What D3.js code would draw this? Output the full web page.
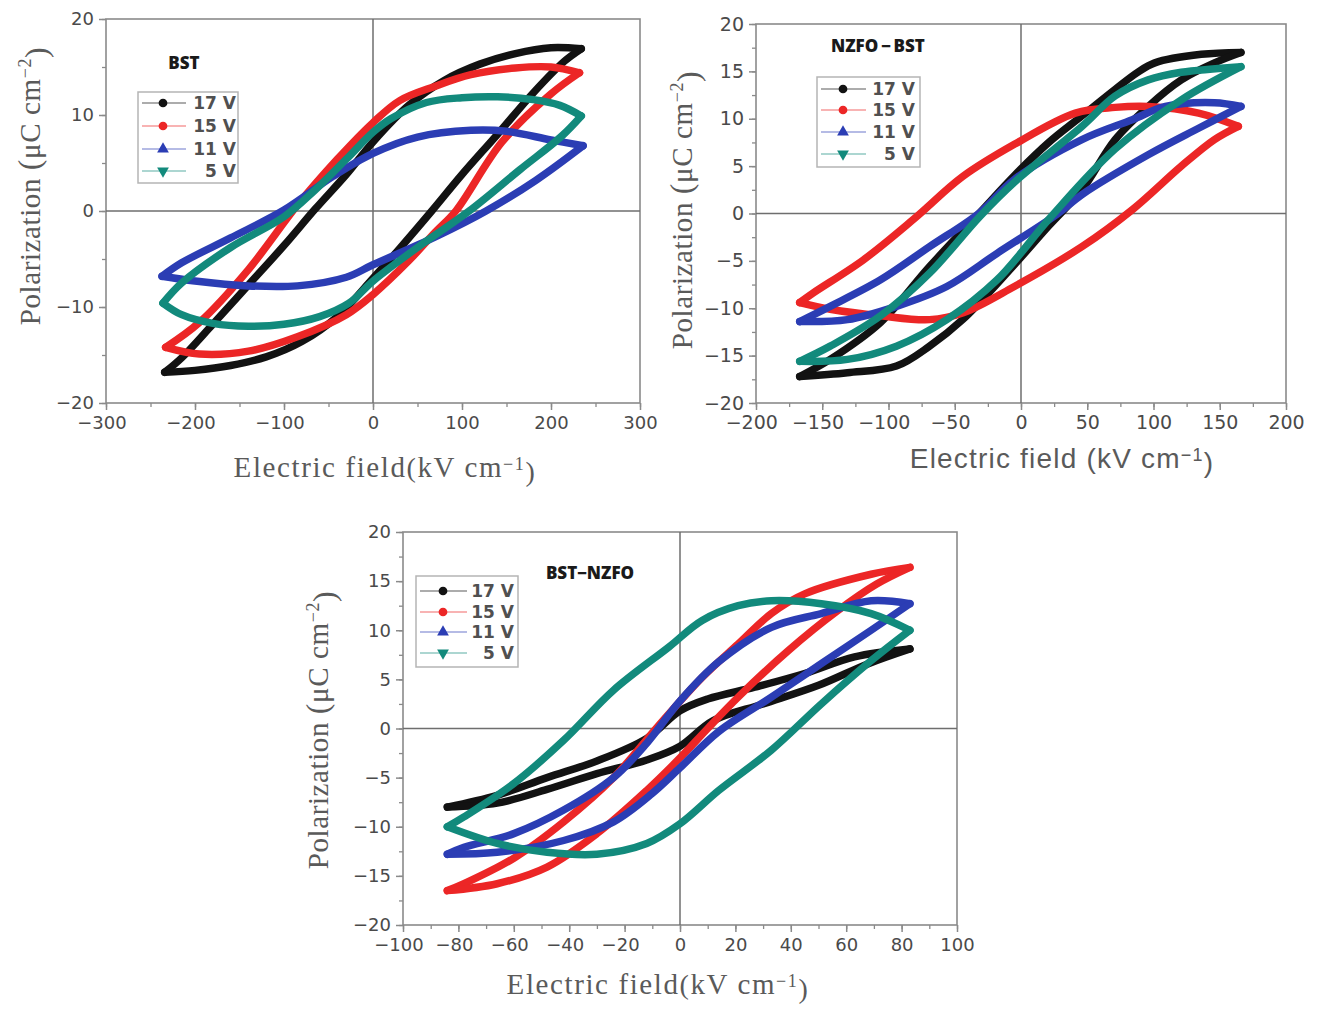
<!DOCTYPE html>
<html>
<head>
<meta charset="utf-8">
<script src="https://cdn.jsdelivr.net/npm/d3@7"></script>
<style>
  html, body { margin: 0; padding: 0; background: #ffffff; }
  svg { display: block; }
</style>
</head>
<body>
<svg id="chart" width="1319" height="1009"></svg>
<script>
// ---------------- DATA ----------------
const seriesNames = ["17 V", "15 V", "11 V", "5 V"];
const seriesColors = ["#121212", "#ec2626", "#2b3db4", "#128a7c"];

// Tick labels
const bstXTicks = [-300, -200, -100, 0, 100, 200, 300];
const nzfoBstXTicks = [-200, -150, -100, -50, 0, 50, 100, 150, 200];
const bstNzfoXTicks = [-100, -80, -60, -40, -20, 0, 20, 40, 60, 80, 100];
const bstYTicks = [-20, -10, 0, 10, 20];
const nzfoBstYTicks = [-20, -15, -10, -5, 0, 5, 10, 15, 20];
const bstNzfoYTicks = [-20, -15, -10, -5, 0, 5, 10, 15, 20];

// Panel "BST": [E (kV/cm), P (uC/cm2)], upper branch (E falling) and lower branch (E rising)
const bst17Upper = [[234,16.9],[200,17.0],[160,16.4],[120,15.3],[80,13.6],[40,11.0],[0,7.2],[-30,3.8],[-65,0.2],[-100,-3.6],[-140,-7.7],[-180,-11.8],[-215,-15.3],[-234,-16.8]];
const bst17Lower = [[-234,-16.8],[-200,-16.6],[-160,-16.1],[-120,-15.2],[-80,-13.6],[-40,-11.0],[0,-7.0],[30,-3.9],[66,0],[100,3.8],[140,8.0],[180,12.3],[215,15.6],[234,16.9]];
const bst15Upper = [[232,14.4],[200,15.0],[160,14.9],[110,14.2],[70,13.0],[30,11.5],[0,9.2],[-40,5.4],[-85,0.6],[-140,-6.1],[-195,-11.6],[-233,-14.2]];
const bst15Lower = [[-233,-14.2],[-195,-14.9],[-140,-14.6],[-85,-13.1],[-30,-10.8],[0,-8.7],[40,-5.2],[70,-2.2],[93,0],[145,7.2],[200,12.2],[232,14.4]];
const bst11Upper = [[236,6.8],[200,7.4],[150,8.3],[110,8.4],[50,7.7],[0,6.0],[-45,3.6],[-100,0.1],[-160,-2.8],[-215,-5.4],[-237,-6.8]];
const bst11Lower = [[-237,-6.8],[-200,-7.3],[-140,-7.8],[-85,-7.8],[-30,-6.9],[0,-5.6],[70,-2.7],[127,0],[183,3.2],[236,6.8]];
const bst5Upper = [[234,9.9],[210,11.0],[180,11.6],[140,11.9],[100,11.8],[60,11.3],[20,9.6],[0,8.2],[-30,5.4],[-65,2.2],[-100,-0.6],[-160,-3.8],[-215,-7.5],[-236,-9.6]];
const bst5Lower = [[-236,-9.6],[-215,-10.8],[-180,-11.7],[-140,-12.0],[-100,-11.8],[-60,-11.0],[-27,-9.6],[0,-7.3],[50,-3.8],[108,0],[165,4.3],[212,7.8],[234,9.9]];

// Panel "NZFO-BST"
const nb17Upper = [[166,17.0],[136,16.8],[101,15.9],[88,14.9],[71,13.1],[46,10.3],[21,7.5],[-5,4.0],[-31,0.1],[-69,-5.6],[-106,-11.5],[-144,-15.4],[-167,-17.2]];
const nb17Lower = [[-167,-17.2],[-131,-16.8],[-94,-16.1],[-69,-14.0],[-44,-11.2],[-5,-5.4],[21,-1.3],[46,2.5],[71,7.8],[96,11.3],[121,14.1],[146,15.9],[166,17.0]];
const nb15Upper = [[164,9.2],[134,10.6],[96,11.3],[71,11.2],[41,10.6],[-5,7.3],[-44,3.9],[-81,-0.6],[-119,-4.9],[-157,-8.4],[-167,-9.4]];
const nb15Lower = [[-167,-9.4],[-144,-10.1],[-106,-10.8],[-69,-11.2],[-44,-10.5],[-5,-7.7],[46,-3.5],[84,0.4],[121,5.0],[146,7.8],[164,9.2]];
const nb11Upper = [[166,11.3],[146,11.7],[109,11.3],[84,9.9],[46,7.8],[-5,3.6],[-31,0.1],[-69,-3.5],[-106,-7.0],[-144,-9.8],[-167,-11.4]];
const nb11Lower = [[-167,-11.4],[-131,-11.2],[-94,-9.8],[-56,-7.7],[-18,-4.2],[28,0],[46,2.0],[96,6.2],[134,9.0],[166,11.3]];
const nb5Upper = [[166,15.5],[121,14.9],[96,14.1],[71,12.4],[46,9.2],[-5,3.3],[-31,-0.3],[-69,-6.3],[-106,-10.8],[-144,-14.0],[-167,-15.6]];
const nb5Lower = [[-167,-15.6],[-131,-15.4],[-94,-14.0],[-56,-11.2],[-18,-7.0],[21,-0.6],[71,6.8],[121,12.0],[166,15.5]];

// Panel "BST-NZFO"
const bn17Upper = [[83,8.1],[63,7.3],[45,5.6],[27,4.2],[10,3.0],[0,1.8],[-12,-1.0],[-30,-3.3],[-48,-5.0],[-66,-6.8],[-84,-8.0]];
const bn17Lower = [[-84,-8.0],[-66,-7.6],[-48,-6.2],[-30,-4.6],[-12,-3.2],[0,-1.8],[12,0.8],[30,2.5],[50,4.4],[68,6.6],[83,8.1]];
const bn15Upper = [[83,16.4],[69,15.7],[45,13.7],[33,11.7],[21,8.6],[8,5.2],[-8,0.2],[-24,-5.0],[-42,-9.5],[-60,-13.2],[-78,-15.8],[-84,-16.5]];
const bn15Lower = [[-84,-16.5],[-66,-15.8],[-48,-14.1],[-30,-10.7],[-12,-6.3],[0,-3.0],[10,0],[21,3.2],[39,7.9],[57,12.0],[71,14.7],[83,16.4]];
const bn11Upper = [[83,12.7],[69,13.0],[51,11.7],[33,10.3],[14,6.8],[0,2.8],[-12,-1.5],[-24,-5.0],[-42,-8.3],[-60,-10.7],[-78,-12.1],[-84,-12.8]];
const bn11Lower = [[-84,-12.8],[-66,-12.6],[-42,-11.4],[-24,-9.5],[-10,-6.6],[0,-4.0],[14,-0.3],[33,3.2],[51,6.6],[69,10.0],[83,12.7]];
const bn5Upper = [[83,10.0],[69,11.7],[51,12.7],[33,13.0],[21,12.5],[8,11.0],[-4,8.3],[-24,3.9],[-42,-1.2],[-60,-5.6],[-78,-9.0],[-84,-10.0]];
const bn5Lower = [[-84,-10.0],[-66,-11.7],[-48,-12.6],[-30,-12.8],[-12,-11.7],[0,-9.7],[14,-6.3],[33,-2.2],[51,2.5],[69,6.9],[83,10.0]];

// ---------------- DRAWING ----------------
const svg = d3.select("#chart");
const axisColor = "#8a8a8a";
const textColor = "#4a4a4a";

const panels = [
  {
    name: "BST", xDomain: [-300, 300], yDomain: [-20, 20],
    xRange: [106, 640], yRange: [403, 19],
    xTicks: bstXTicks, yTicks: bstYTicks, xMinorStep: 50, yMinorStep: 5,
    loops: [[bst17Upper, bst17Lower], [bst15Upper, bst15Lower], [bst11Upper, bst11Lower], [bst5Upper, bst5Lower]],
    label: "BST", labelPos: [184, 64],
    legend: {x: 138, y: 92, w: 100, h: 91, rowY: [103, 126, 149, 171], markX: 163, lineX: [142, 186], textX: 236},
    xTitle: {x: 385, y: 477, serif: true}, yTitle: {x: 40, y: 186},
    tickFont: 18
  },
  {
    name: "NZFO-BST", xDomain: [-200, 200], yDomain: [-20, 20],
    xRange: [756, 1286], yRange: [403, 24],
    xTicks: nzfoBstXTicks, yTicks: nzfoBstYTicks, xMinorStep: 25, yMinorStep: 2.5,
    loops: [[nb17Upper, nb17Lower], [nb15Upper, nb15Lower], [nb11Upper, nb11Lower], [nb5Upper, nb5Lower]],
    label: "NZFO\u2009\u2212\u2009BST", labelPos: [878, 47],
    legend: {x: 817, y: 77, w: 103, h: 90, rowY: [89, 110, 132, 154], markX: 843, lineX: [821, 866], textX: 915},
    xTitle: {x: 1062, y: 468, serif: false}, yTitle: {x: 692, y: 210},
    tickFont: 19
  },
  {
    name: "BST-NZFO", xDomain: [-100, 100], yDomain: [-20, 20],
    xRange: [403, 957], yRange: [925, 532],
    xTicks: bstNzfoXTicks, yTicks: bstNzfoYTicks, xMinorStep: 10, yMinorStep: 2.5,
    loops: [[bn17Upper, bn17Lower], [bn15Upper, bn15Lower], [bn11Upper, bn11Lower], [bn5Upper, bn5Lower]],
    label: "BST\u2212NZFO", labelPos: [590, 574],
    legend: {x: 416, y: 576, w: 102, h: 91, rowY: [591, 612, 632, 653], markX: 443, lineX: [420, 467], textX: 514},
    xTitle: {x: 658, y: 994, serif: true}, yTitle: {x: 328, y: 730},
    tickFont: 18
  }
];

function drawPanel(p) {
  const g = svg.append("g").attr("class", "panel");
  const x = d3.scaleLinear().domain(p.xDomain).range(p.xRange);
  const y = d3.scaleLinear().domain(p.yDomain).range(p.yRange);

  // minor ticks
  const xMinor = d3.range(p.xDomain[0], p.xDomain[1] + 1e-9, p.xMinorStep);
  const yMinor = d3.range(p.yDomain[0], p.yDomain[1] + 1e-9, p.yMinorStep);
  g.append("g").attr("transform", `translate(0,${p.yRange[0]})`)
    .call(d3.axisBottom(x).tickValues(xMinor).tickSize(4).tickFormat(""))
    .call(a => a.select(".domain").remove())
    .call(a => a.selectAll("line").attr("stroke", axisColor).attr("stroke-width", 1.3));
  g.append("g").attr("transform", `translate(${p.xRange[0]},0)`)
    .call(d3.axisLeft(y).tickValues(yMinor).tickSize(4).tickFormat(""))
    .call(a => a.select(".domain").remove())
    .call(a => a.selectAll("line").attr("stroke", axisColor).attr("stroke-width", 1.3));

  // major axes
  const xAxis = g.append("g").attr("transform", `translate(0,${p.yRange[0]})`)
    .call(d3.axisBottom(x).tickValues(p.xTicks).tickSize(7).tickPadding(6));
  const yAxis = g.append("g").attr("transform", `translate(${p.xRange[0]},0)`)
    .call(d3.axisLeft(y).tickValues(p.yTicks).tickSize(7).tickPadding(5));
  [xAxis, yAxis].forEach(a => {
    a.select(".domain").remove();
    a.selectAll("line").attr("stroke", axisColor).attr("stroke-width", 1.5);
    a.selectAll("text").attr("fill", textColor)
      .style("font-family", "'DejaVu Sans', sans-serif")
      .style("font-size", p.tickFont + "px");
  });
  xAxis.selectAll("text").attr("dx", d => d < 0 ? "-0.25em" : 0);

  // frame
  g.append("rect")
    .attr("x", p.xRange[0]).attr("y", p.yRange[1])
    .attr("width", p.xRange[1] - p.xRange[0]).attr("height", p.yRange[0] - p.yRange[1])
    .attr("fill", "none").attr("stroke", axisColor).attr("stroke-width", 1.6);

  // zero lines
  g.append("line").attr("x1", x(0)).attr("x2", x(0)).attr("y1", p.yRange[1]).attr("y2", p.yRange[0])
    .attr("stroke", "#6e6e6e").attr("stroke-width", 1.5);
  g.append("line").attr("x1", p.xRange[0]).attr("x2", p.xRange[1]).attr("y1", y(0)).attr("y2", y(0))
    .attr("stroke", "#6e6e6e").attr("stroke-width", 1.5);

  // loops
  const line = d3.line().x(d => x(d[0])).y(d => y(d[1])).curve(d3.curveCatmullRom.alpha(0.5));
  p.loops.forEach((branches, i) => {
    branches.forEach(br => {
      g.append("path").datum(br)
        .attr("d", line)
        .attr("fill", "none")
        .attr("stroke", seriesColors[i])
        .attr("stroke-width", 7.5)
        .attr("stroke-linejoin", "round")
        .attr("stroke-linecap", "round");
    });
  });

  // panel label
  g.append("text").attr("x", p.labelPos[0]).attr("y", p.labelPos[1])
    .attr("text-anchor", "middle").attr("dominant-baseline", "middle")
    .style("font-family", "'Open Sans', 'Liberation Sans', sans-serif")
    .style("font-weight", "800").style("font-size", "17px")
    .attr("fill", "#1a1a1a").text(p.label);

  // legend
  const L = p.legend;
  const lg = g.append("g");
  lg.append("rect").attr("x", L.x).attr("y", L.y).attr("width", L.w).attr("height", L.h)
    .attr("fill", "#ffffff").attr("stroke", "#b5b5b5").attr("stroke-width", 1.5);
  seriesNames.forEach((name, i) => {
    const ry = L.rowY[i];
    lg.append("line").attr("x1", L.lineX[0]).attr("x2", L.lineX[1]).attr("y1", ry).attr("y2", ry)
      .attr("stroke", seriesColors[i]).attr("stroke-opacity", 0.35).attr("stroke-width", 2);
    let sym;
    if (i < 2) sym = d3.symbol().type(d3.symbolCircle).size(60);
    else sym = d3.symbol().type(d3.symbolTriangle).size(60);
    lg.append("path").attr("d", sym())
      .attr("transform", `translate(${L.markX},${ry})` + (i === 3 ? " rotate(180)" : ""))
      .attr("fill", seriesColors[i]);
    lg.append("text").attr("x", L.textX).attr("y", ry).attr("text-anchor", "end")
      .attr("dominant-baseline", "central")
      .style("font-family", "'DejaVu Sans', sans-serif").style("font-size", "17px")
      .style("font-weight", "600")
      .attr("fill", "#505050").text(name);
  });

  // axis titles
  const serif = p.xTitle.serif;
  const xt = g.append("text").attr("x", p.xTitle.x).attr("y", p.xTitle.y).attr("text-anchor", "middle")
    .attr("fill", "#5a5a5a")
    .style("font-family", serif ? "'Liberation Serif', serif" : "'Liberation Sans', sans-serif")
    .style("font-size", serif ? "29px" : "28px")
    .style("letter-spacing", serif ? "1.6px" : "1.2px");
  xt.append("tspan").text(serif ? "Electric  field" : "Electric  field ");
  xt.append("tspan").style("font-size", "28px").text("(");
  xt.append("tspan").text("kV cm");
  xt.append("tspan").attr("dy", "-0.4em").style("font-size", "18px").text("\u22121");
  xt.append("tspan").attr("dy", "0.4em").style("font-size", "28px").text(")");

  const yt = g.append("text").attr("transform", `translate(${p.yTitle.x},${p.yTitle.y}) rotate(-90)`)
    .attr("text-anchor", "middle").attr("fill", "#5a5a5a")
    .style("font-family", "'Liberation Serif', serif").style("font-size", "29px")
    .style("letter-spacing", "0.6px");
  yt.append("tspan").text("Polarization ");
  yt.append("tspan").style("font-size", "32px").text("(");
  yt.append("tspan").text("\u03bcC cm");
  yt.append("tspan").attr("dy", "-0.5em").style("font-size", "18px").text("\u22122");
  yt.append("tspan").attr("dy", "0.5em").style("font-size", "32px").text(")");
}

panels.forEach(drawPanel);
</script>
</body>
</html>
